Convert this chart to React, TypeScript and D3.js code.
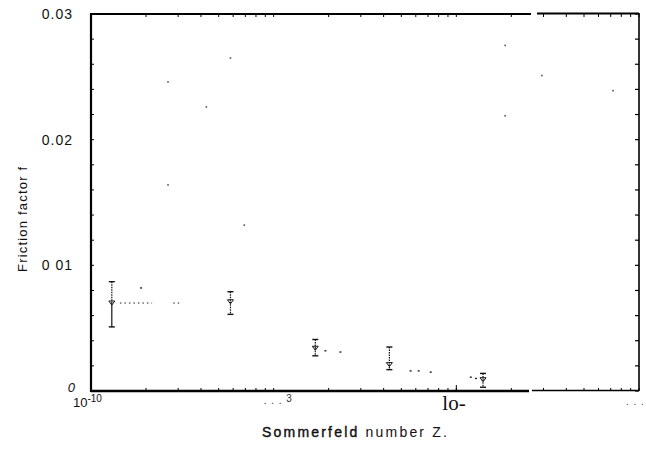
import React from "react";
import { scaleLog, scaleLinear, range } from "d3";

// measured points: Sommerfeld number Z and friction factor f
const zPoints = [1.3e-4, 5.8e-4, 1.69e-3, 4.3e-3, 1.4e-2];
const fMean = [0.007, 0.0071, 0.0034, 0.0021, 0.0009];
const fHigh = [0.0087, 0.0079, 0.0041, 0.0035, 0.0014];
const fLow = [0.0051, 0.0061, 0.0028, 0.0017, 0.0003];

// dotted trails between points
const trailStart = [1.44e-4, 2.82e-4];
const trailEnd = [2.16e-4, 3.16e-4];
const trailF = [0.007, 0.007];

// loose dots along the curve
const dotZ = [1.88e-4, 1.92e-3, 2.32e-3, 5.62e-3, 6.22e-3, 7.24e-3, 1.2e-2, 1.28e-2];
const dotF = [0.0082, 0.0032, 0.0031, 0.0016, 0.0016, 0.0015, 0.0011, 0.001];

// specks in the scan
const speckZ = [5.8e-4, 2.64e-4, 4.28e-4, 2.64e-4, 6.9e-4, 1.85e-2, 2.94e-2, 7.21e-2, 1.85e-2];
const speckF = [0.0265, 0.0246, 0.0226, 0.0164, 0.0132, 0.0275, 0.0251, 0.0239, 0.0219];

const yTicks = [0, 0.01, 0.02, 0.03];
const yTickLabels = ["0", "0 01", "0.02", "0.03"];
const yMinor = range(0, 0.0301, 0.002);

const W = 646;
const H = 451;
const left = 91;
const right = 639;
const top = 14;
const bottom = 391;

export default function App() {
  const x = scaleLog().domain([1e-4, 1e-1]).range([left, right]);
  const y = scaleLinear().domain([0, 0.03]).range([bottom, top]);
  const minor = x.ticks(30);
  const font = "'Liberation Sans', Arial, sans-serif";

  return (
    <svg
      width={W}
      height={H}
      style={{ position: "absolute", left: 0, top: 0, background: "#fff" }}
    >
      {/* frame */}
      <line x1={left} x2={left} y1={top - 1} y2={bottom + 1} stroke="#000" strokeWidth={2.2} />
      <line x1={right} x2={right} y1={top - 1} y2={bottom} stroke="#000" strokeWidth={1.6} />
      <line x1={left} x2={529} y1={bottom} y2={bottom} stroke="#000" strokeWidth={2.6} />
      <line x1={532} x2={right} y1={bottom - 0.5} y2={bottom - 0.5} stroke="#000" strokeWidth={1.4} />
      <line x1={left} x2={531} y1={top} y2={top} stroke="#000" strokeWidth={2.2} />
      <line x1={537} x2={right} y1={top - 0.5} y2={top - 0.5} stroke="#000" strokeWidth={1.8} />

      {/* y ticks */}
      {yMinor.map((v, i) => (
        <g key={"ym" + i}>
          <line x1={left} x2={left + 3} y1={y(v)} y2={y(v)} stroke="#000" strokeWidth={1} />
          <line x1={right} x2={right - 4} y1={y(v)} y2={y(v)} stroke="#000" strokeWidth={1.2} />
        </g>
      ))}
      {yTicks.map((v, i) => (
        <text
          key={"yl" + i}
          x={v === 0 ? 76 : 73}
          y={y(v) + (v === 0 ? 1 : 5)}
          textAnchor="end"
          fontFamily={font}
          fontSize={v === 0 ? 13 : 14}
          fontStyle={v === 0 ? "italic" : "normal"}
          letterSpacing={1}
          fill="#111"
        >
          {yTickLabels[i]}
        </text>
      ))}

      {/* x ticks */}
      {minor.map((v, i) => (
        <g key={"xm" + i}>
          <line x1={x(v)} x2={x(v)} y1={top} y2={top + 3} stroke="#000" strokeWidth={1} />
          <line x1={x(v)} x2={x(v)} y1={bottom} y2={bottom - 3} stroke="#000" strokeWidth={1} />
        </g>
      ))}
      <line x1={x(1e-2)} x2={x(1e-2)} y1={bottom} y2={bottom - 6} stroke="#000" strokeWidth={1} />

      {/* x tick labels as printed */}
      <text x={x(1e-4) - 18} y={407} fontFamily={font} fontSize={13} fill="#111">
        10
        <tspan dy={-5} fontSize={10}>-10</tspan>
      </text>
      <text x={x(1e-3) - 10} y={404} fontFamily={font} fontSize={10} fill="#333" letterSpacing={1}>
        . . .
        <tspan dy={-2} fontSize={10}> 3</tspan>
      </text>
      <text x={x(1e-2) - 14} y={410} fontFamily="'Liberation Serif', serif" fontSize={21} fill="#111">
        lo-
      </text>
      <text x={x(1e-1) - 13} y={405} fontFamily={font} fontSize={10} fill="#444" letterSpacing={1}>
        . . .
      </text>

      {/* axis titles */}
      <text
        transform={`translate(27,${272}) rotate(-90)`}
        fontFamily={font}
        fontSize={13}
        letterSpacing={1.2}
        fill="#111"
      >
        Friction factor f
      </text>
      <text x={262} y={437} fontFamily={font} fontSize={14} letterSpacing={2.2} fill="#111">
        <tspan stroke="#111" strokeWidth={0.4}>Sommerfeld</tspan> number Z.
      </text>

      {/* trails */}
      {trailStart.map((z, i) => (
        <line
          key={"tr" + i}
          x1={x(z)}
          x2={x(trailEnd[i])}
          y1={y(trailF[i])}
          y2={y(trailF[i])}
          stroke="#222"
          strokeWidth={1}
          strokeDasharray="1.5,3"
        />
      ))}
      {dotZ.map((z, i) => (
        <rect key={"d" + i} x={x(z) - 1} y={y(dotF[i]) - 0.7} width={2} height={1.4} fill="#222" />
      ))}
      {speckZ.map((z, i) => (
        <rect key={"s" + i} x={x(z) - 0.8} y={y(speckF[i]) - 0.8} width={1.6} height={1.6} fill="#555" />
      ))}

      {/* error bars */}
      {zPoints.map((z, i) => {
        const cx = x(z);
        const cy = y(fMean[i]);
        const hi = y(fHigh[i]);
        const lo = y(fLow[i]);
        return (
          <g key={"p" + i}>
            <line x1={cx} x2={cx} y1={hi} y2={cy} stroke="#111" strokeWidth={1.2} strokeDasharray="1.5,1" />
            <line
              x1={cx}
              x2={cx}
              y1={cy}
              y2={lo}
              stroke="#111"
              strokeWidth={1.2}
              strokeDasharray={i === 0 ? undefined : "1.5,1"}
            />
            <line x1={cx - 3} x2={cx + 3} y1={hi} y2={hi} stroke="#111" strokeWidth={1.4} />
            <line x1={cx - 3} x2={cx + 3} y1={lo} y2={lo} stroke="#111" strokeWidth={1.4} />
            <path d={`M${cx - 3},${cy - 2}L${cx + 3},${cy - 2}L${cx},${cy + 2}Z`} fill="none" stroke="#111" strokeWidth={1} />
          </g>
        );
      })}
    </svg>
  );
}
